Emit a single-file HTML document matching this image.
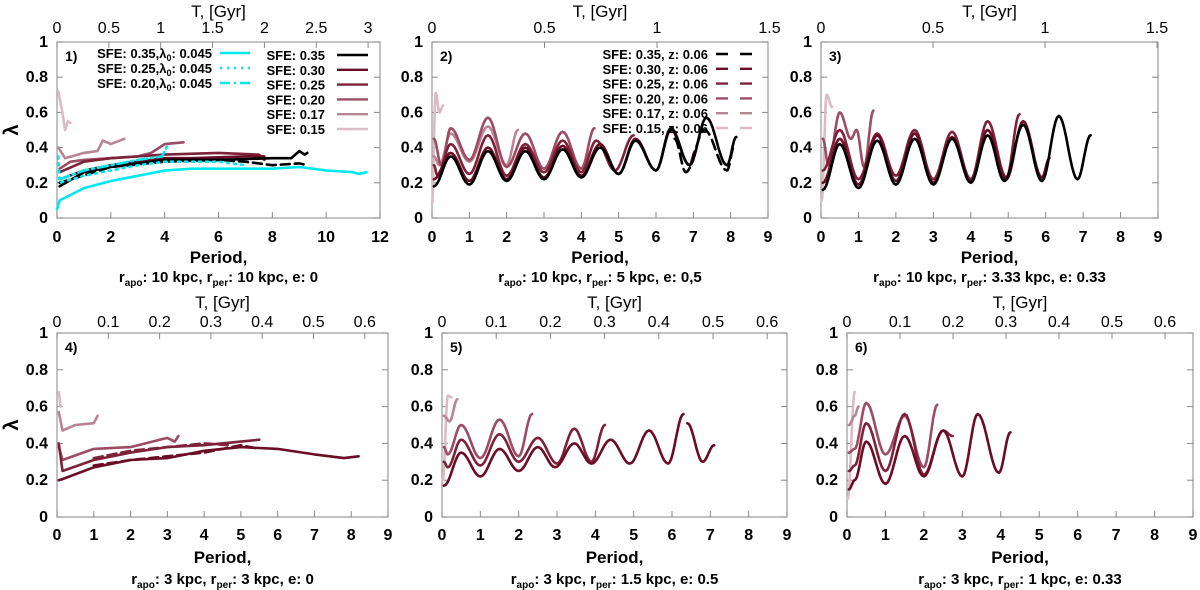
<!DOCTYPE html>
<html><head><meta charset="utf-8"><style>
body{margin:0;background:#fff;}
svg{display:block;font-family:"Liberation Sans",sans-serif;}
</style></head><body>
<svg id="fig" width="1200" height="590" viewBox="0 0 1200 590" xmlns="http://www.w3.org/2000/svg"></svg>
<script>
// ---------------- data ----------------
const colors = {s35:'#000000', s30:'#6a0d25', s25:'#7e2239', s20:'#9c4c63', s17:'#b88593', s15:'#dcbcc4', cyan:'#00e8f0'};
const yTicks = [0,0.2,0.4,0.6,0.8,1];
const xTicks9 = [0,1,2,3,4,5,6,7,8,9];
const xTicks12 = [0,2,4,6,8,10,12];
const topTicks1 = [0,0.5,1,1.5,2,2.5,3];
const topTicks23 = [0,0.5,1,1.5];
const topTicksB = [0,0.1,0.2,0.3,0.4,0.5,0.6];

// panel 1 (linear)
const p1_cyanSolid = [[0,0.05],[0.1,0.1],[1,0.17],[2,0.21],[3,0.24],[4,0.27],[5,0.28],[6,0.28],[8,0.28],[9,0.29],[10,0.27],[11,0.26],[11.2,0.25],[11.5,0.26]];
const p1_cyanDot = [[0.05,0.35],[0.1,0.2],[1,0.24],[2,0.27],[3,0.3],[4,0.32],[5,0.32],[6,0.32],[7,0.3]];
const p1_cyanDashDot = [[0.1,0.22],[1,0.27],[2,0.3],[3,0.33],[3.9,0.35],[4.1,0.41]];
const p1_s35 = [[0.1,0.18],[1,0.26],[2,0.29],[3,0.31],[4,0.33],[6,0.33],[8,0.34],[8.7,0.34],[9,0.38],[9.2,0.36],[9.3,0.37]];
const p1_s35d = [[0.1,0.2],[2,0.29],[4,0.32],[6,0.33],[7,0.32],[8,0.3],[9,0.31],[9.3,0.3]];
const p1_s30 = [[0.1,0.22],[1,0.27],[2,0.3],[3,0.32],[4,0.34],[5,0.34],[7,0.35],[7.7,0.35]];
const p1_s25 = [[0.1,0.26],[1,0.32],[2,0.34],[4,0.36],[6,0.37],[7.5,0.36],[7.7,0.33]];
const p1_s20 = [[0.1,0.28],[0.5,0.32],[1,0.33],[2,0.34],[3,0.35],[3.5,0.37],[4,0.42],[4.7,0.43]];
const p1_s17 = [[0.05,0.4],[0.3,0.34],[1,0.37],[1.5,0.38],[1.7,0.44],[2,0.42],[2.5,0.45]];
const p1_s15 = [[0.05,0.72],[0.2,0.6],[0.3,0.5],[0.4,0.55],[0.5,0.54]];

// panel 2 (oscillating extrema)
const p2_s35 = [[0.05,0.18],[0.5,0.35],[1,0.19],[1.5,0.38],[2,0.21],[2.5,0.38],[3,0.22],[3.5,0.39],[4,0.23],[4.5,0.4],[5,0.25],[5.45,0.44],[6,0.27],[6.4,0.51],[6.9,0.3],[7.35,0.57],[7.9,0.3],[8.15,0.46]];
const p2_s35d = [[6.5,0.45],[6.8,0.26],[7.3,0.5],[7.9,0.27],[8.1,0.41]];
const p2_s30 = [[0.05,0.22],[0.5,0.37],[1,0.21],[1.5,0.4],[2,0.22],[2.5,0.4],[3,0.23],[3.5,0.41],[4,0.24],[4.5,0.42],[5,0.25],[5.45,0.45],[6,0.27],[6.4,0.5],[6.9,0.3],[7.05,0.38]];
const p2_s25 = [[0.05,0.3],[0.15,0.24],[0.5,0.42],[1,0.25],[1.5,0.47],[2,0.24],[2.5,0.42],[3,0.26],[3.5,0.44],[4,0.26],[4.4,0.44],[4.9,0.27],[5.4,0.47]];
const p2_s20 = [[0.05,0.45],[0.25,0.3],[0.5,0.51],[1,0.33],[1.5,0.57],[2,0.29],[2.5,0.48],[3,0.28],[3.5,0.49],[4,0.28],[4.35,0.51]];
const p2_s17 = [[0.05,0.35],[0.2,0.3],[0.5,0.48],[1,0.32],[1.5,0.52],[2,0.3],[2.3,0.5]];
const p2_s15 = [[0,0.08],[0.1,0.71],[0.2,0.6],[0.3,0.64]];

// panel 3
const p3_s35 = [[0.05,0.16],[0.5,0.42],[1,0.17],[1.5,0.44],[2,0.19],[2.5,0.45],[3,0.19],[3.5,0.45],[4,0.2],[4.45,0.47],[4.9,0.21],[5.4,0.53],[5.9,0.21],[6.35,0.58],[6.85,0.22],[7.2,0.47]];
const p3_s30 = [[0.05,0.2],[0.5,0.45],[1,0.19],[1.5,0.47],[2,0.21],[2.5,0.48],[3,0.2],[3.5,0.46],[4,0.21],[4.45,0.5],[4.95,0.22],[5.4,0.55],[5.9,0.23],[6.1,0.34]];
const p3_s25 = [[0.05,0.27],[0.5,0.5],[1,0.22],[1.5,0.48],[2,0.24],[2.5,0.5],[3,0.22],[3.5,0.49],[4,0.22],[4.45,0.55],[4.95,0.23],[5.3,0.59]];
const p3_s20 = [[0.05,0.45],[0.2,0.3],[0.5,0.6],[0.8,0.45],[0.95,0.5],[1.15,0.29],[1.4,0.61]];
const p3_s15 = [[0.02,0.1],[0.15,0.7],[0.3,0.63]];

// panel 4 (linear)
const p4_s30 = [[0.05,0.2],[0.2,0.21],[1,0.27],[2,0.31],[3,0.32],[4,0.36],[5,0.38],[6,0.37],[7,0.34],[7.8,0.32],[8.2,0.33]];
const p4_s30d = [[1,0.28],[2,0.31],[3,0.33],[4,0.35],[5,0.39],[5.5,0.37]];
const p4_s25 = [[0.05,0.4],[0.15,0.25],[1,0.31],[2,0.35],[3,0.38],[4,0.39],[5,0.41],[5.5,0.42]];
const p4_s25d = [[1,0.32],[2,0.36],[3,0.38],[4,0.4],[4.7,0.39]];
const p4_s20 = [[0.05,0.38],[0.15,0.31],[1,0.37],[2,0.38],[3,0.43],[3.2,0.41],[3.3,0.44]];
const p4_s17 = [[0.05,0.57],[0.15,0.47],[0.5,0.5],[1,0.51],[1.1,0.55]];
const p4_s15 = [[0.05,0.68],[0.1,0.6]];

// panel 5
const p5_s30 = [[0.05,0.17],[0.5,0.35],[1,0.22],[1.5,0.37],[2,0.25],[2.5,0.38],[2.95,0.27],[3.45,0.4],[3.9,0.29],[4.4,0.42],[4.9,0.29],[5.4,0.47],[5.9,0.29],[6.3,0.56]];
const p5_s30b = [[6.4,0.51],[6.8,0.3],[7.1,0.39]];
const p5_s25 = [[0.05,0.3],[0.15,0.27],[0.5,0.42],[1,0.28],[1.5,0.45],[2,0.3],[2.5,0.43],[3,0.29],[3.45,0.48],[3.9,0.3],[4.25,0.5]];
const p5_s20 = [[0.05,0.38],[0.15,0.34],[0.5,0.5],[1,0.32],[1.5,0.53],[2,0.33],[2.35,0.56]];
const p5_s17 = [[0.05,0.55],[0.2,0.52],[0.4,0.64]];
const p5_s15 = [[0.02,0.2],[0.15,0.66],[0.25,0.65]];

// panel 6
const p6_s30 = [[0.05,0.15],[0.2,0.2],[0.5,0.41],[1,0.18],[1.5,0.44],[2,0.22],[2.5,0.47],[3,0.22],[3.4,0.56],[3.95,0.24],[4.25,0.46]];
const p6_s25 = [[0.05,0.25],[0.2,0.28],[0.5,0.51],[1,0.25],[1.5,0.56],[2,0.23],[2.5,0.47],[2.75,0.44]];
const p6_s20 = [[0.05,0.35],[0.2,0.37],[0.5,0.62],[1,0.34],[1.5,0.55],[2,0.27],[2.35,0.61]];
const p6_s17 = [[0.05,0.5],[0.2,0.55],[0.3,0.6]];
const p6_s15 = [[0.02,0.1],[0.2,0.68]];

// ---------------- drawing ----------------
const NS='http://www.w3.org/2000/svg';
const svg=document.getElementById('fig');
function el(tag,attrs,parent){const e=document.createElementNS(NS,tag);for(const k in attrs)e.setAttribute(k,attrs[k]);(parent||svg).appendChild(e);return e;}
function txt(s,x,y,size,anchor,weight,parent){const t=el('text',{x:x,y:y,'font-size':size,'text-anchor':anchor||'middle','font-weight':weight||'bold',fill:'#000'},parent);t.textContent=s;return t;}

const panels=[
 {n:1,xL:57,xR:380,yT:42,yB:218,xmax:12,xt:xTicks12,tt:topTicks1,tScale:103.7,row:0,sub:['10 kpc','10 kpc','0']},
 {n:2,xL:432,xR:768,yT:42,yB:218,xmax:9,xt:xTicks9,tt:topTicks23,tScale:225,row:0,sub:['10 kpc','5 kpc','0,5']},
 {n:3,xL:821,xR:1158,yT:42,yB:218,xmax:9,xt:xTicks9,tt:topTicks23,tScale:224,row:0,sub:['10 kpc','3.33 kpc','0.33']},
 {n:4,xL:57,xR:388,yT:333,yB:517,xmax:9,xt:xTicks9,tt:topTicksB,tScale:513,row:1,sub:['3 kpc','3 kpc','0']},
 {n:5,xL:442,xR:787,yT:333,yB:517,xmax:9,xt:xTicks9,tt:topTicksB,tScale:542,row:1,sub:['3 kpc','1.5 kpc','0.5']},
 {n:6,xL:847,xR:1193,yT:333,yB:517,xmax:9,xt:xTicks9,tt:topTicksB,tScale:530,row:1,sub:['3 kpc','1 kpc','0.33']}
];

function makeAxes(p){
  p.sx=v=>p.xL+v/p.xmax*(p.xR-p.xL);
  p.sy=v=>p.yB-v*(p.yB-p.yT);
  const g=el('g',{});
  
  
  p.g=g;
  const fr=el('rect',{x:p.xL,y:p.yT,width:p.xR-p.xL,height:p.yB-p.yT,fill:'none',stroke:'#9a9a9a','stroke-width':1.2},g);
  
  
  const tlY=p.row?540:242, tTopY=p.row?327:33, tTitleY=p.row?308:17, perY=p.row?563:263, subY=p.row?584:282;
  yTicks.forEach(v=>{
    const y=p.sy(v);
    el('line',{x1:p.xL,y1:y,x2:p.xL+6,y2:y,stroke:'#888'},g);
    el('line',{x1:p.xR,y1:y,x2:p.xR-6,y2:y,stroke:'#888'},g);
    const t=txt(String(v),p.xL-9,y+5,16,'end','bold',g);
    
    
  });
  p.xt.forEach(v=>{
    const x=p.sx(v);
    el('line',{x1:x,y1:p.yB,x2:x,y2:p.yB-6,stroke:'#888'},g);
    const t=txt(String(v),x,tlY,16,'middle','bold',g);
    
    
  });
  p.tt.forEach(v=>{
    const x=p.xL+v*p.tScale;
    if(x<=p.xR+1) el('line',{x1:x,y1:p.yT,x2:x,y2:p.yT+6,stroke:'#888'},g);
    const t=txt(String(v),x,tTopY,16,'middle','normal',g);
    
    
  });
  const cx=(p.xL+p.xR)/2;
  const tt=txt('T,  [Gyr]',cx,tTitleY,17,'middle','normal',g);
  
  
  const pt=txt('Period,',cx,perY,17,'middle','bold',g);
  
  
  const st=el('text',{x:cx,y:subY,'font-size':15,'text-anchor':'middle','font-weight':'bold',fill:'#000'},g);
  
  
  st.innerHTML='r<tspan font-size="10" dy="4">apo</tspan><tspan dy="-4">: '+p.sub[0]+', r</tspan><tspan font-size="10" dy="4">per</tspan><tspan dy="-4">: '+p.sub[1]+', e: '+p.sub[2]+'</tspan>';
  const nl=txt(p.n+')',p.xL+8,p.yT+19,14,'start','bold',g);
  
  
  if(p.n===1||p.n===4){
    const ly=(p.yT+p.yB)/2;
    const l=el('text',{x:18,y:ly,'font-size':20,'text-anchor':'middle','font-weight':'bold',fill:'#000',transform:'rotate(-90 18 '+ly+')'},g);
    l.textContent='λ';
    
    
  }
}

function pathLinear(p,pts){return pts.map((q,i)=>(i?'L':'M')+p.sx(q[0]).toFixed(1)+' '+p.sy(q[1]).toFixed(1)).join(' ');}
function pathCos(p,pts){
  let d='M'+p.sx(pts[0][0]).toFixed(1)+' '+p.sy(pts[0][1]).toFixed(1);
  for(let i=1;i<pts.length;i++){
    const a=pts[i-1],b=pts[i];
    for(let k=1;k<=10;k++){const t=k/10;const x=a[0]+(b[0]-a[0])*t;const y=a[1]+(b[1]-a[1])*(1-Math.cos(Math.PI*t))/2;
      d+=' L'+p.sx(x).toFixed(1)+' '+p.sy(y).toFixed(1);}
  }
  return d;
}
function series(p,pts,color,name,opts){
  opts=opts||{};
  const d=opts.cos?pathCos(p,pts):pathLinear(p,pts);
  const a={d:d,fill:'none',stroke:color,'stroke-width':opts.w||2.6,'stroke-linejoin':'round','stroke-linecap':'round'};
  if(opts.dash)a['stroke-dasharray']=opts.dash;
  const e=el('path',a,p.g);
  
  
}

panels.forEach(makeAxes);
const [P1,P2,P3,P4,P5,P6]=panels;

series(P1,p1_s15,colors.s15,'line-sfe-0.15');
series(P1,p1_s17,colors.s17,'line-sfe-0.17');
series(P1,p1_s20,colors.s20,'line-sfe-0.20');
series(P1,p1_s25,colors.s25,'line-sfe-0.25');
series(P1,p1_s30,colors.s30,'line-sfe-0.30');
series(P1,p1_s35d,colors.s35,'line-sfe-0.35-dashed',{dash:'9 5'});
series(P1,p1_s35,colors.s35,'line-sfe-0.35');
series(P1,p1_cyanDot,colors.cyan,'line-sfe-0.25-lambda0',{dash:'2 5'});
series(P1,p1_cyanDashDot,colors.cyan,'line-sfe-0.20-lambda0',{dash:'10 4 2 4'});
series(P1,p1_cyanSolid,colors.cyan,'line-sfe-0.35-lambda0');

series(P2,p2_s15,colors.s15,'line-sfe-0.15',{cos:1});
series(P2,p2_s17,colors.s17,'line-sfe-0.17',{cos:1});
series(P2,p2_s20,colors.s20,'line-sfe-0.20',{cos:1});
series(P2,p2_s25,colors.s25,'line-sfe-0.25',{cos:1});
series(P2,p2_s30,colors.s30,'line-sfe-0.30',{cos:1});
series(P2,p2_s35,colors.s35,'line-sfe-0.35',{cos:1});
series(P2,p2_s35d,colors.s35,'line-sfe-0.35-dashed',{cos:1,dash:'10 6'});

series(P3,p3_s15,colors.s15,'line-sfe-0.15',{cos:1});
series(P3,p3_s20,colors.s20,'line-sfe-0.20',{cos:1});
series(P3,p3_s25,colors.s25,'line-sfe-0.25',{cos:1});
series(P3,p3_s30,colors.s30,'line-sfe-0.30',{cos:1});
series(P3,p3_s35,colors.s35,'line-sfe-0.35',{cos:1});

series(P4,p4_s15,colors.s15,'line-sfe-0.15');
series(P4,p4_s17,colors.s17,'line-sfe-0.17');
series(P4,p4_s20,colors.s20,'line-sfe-0.20');
series(P4,p4_s25d,colors.s25,'line-sfe-0.25-dashed',{dash:'9 5'});
series(P4,p4_s25,colors.s25,'line-sfe-0.25');
series(P4,p4_s30d,colors.s30,'line-sfe-0.30-dashed',{dash:'9 5'});
series(P4,p4_s30,colors.s30,'line-sfe-0.30');

series(P5,p5_s15,colors.s15,'line-sfe-0.15',{cos:1});
series(P5,p5_s17,colors.s17,'line-sfe-0.17',{cos:1});
series(P5,p5_s20,colors.s20,'line-sfe-0.20',{cos:1});
series(P5,p5_s25,colors.s25,'line-sfe-0.25',{cos:1});
series(P5,p5_s30,colors.s30,'line-sfe-0.30',{cos:1});
series(P5,p5_s30b,colors.s30,'line-sfe-0.30-end',{cos:1});

series(P6,p6_s15,colors.s15,'line-sfe-0.15',{cos:1});
series(P6,p6_s17,colors.s17,'line-sfe-0.17',{cos:1});
series(P6,p6_s20,colors.s20,'line-sfe-0.20',{cos:1});
series(P6,p6_s25,colors.s25,'line-sfe-0.25',{cos:1});
series(P6,p6_s30,colors.s30,'line-sfe-0.30',{cos:1});

const leg1L=[['SFE: 0.35,','0.045',''],['SFE: 0.25,','0.045','2 5'],['SFE: 0.20,','0.045','10 4 2 4']];
const lg1=el('g',{},P1.g);


leg1L.forEach((r,i)=>{
  const y=58+i*15;
  const t=el('text',{x:212,y:y,'font-size':13,'text-anchor':'end','font-weight':'bold',fill:'#000'},lg1);
  t.innerHTML=r[0]+'λ<tspan font-size="9" dy="3">0</tspan><tspan dy="-3">: '+r[1]+'</tspan>';
  
  
  const a={x1:220,y1:y-5,x2:250,y2:y-5,stroke:colors.cyan,'stroke-width':2.4};
  if(r[2])a['stroke-dasharray']=r[2];
  el('line',a,lg1);
});
const sfeLab=['0.35','0.30','0.25','0.20','0.17','0.15'];
const sfeCol=[colors.s35,colors.s30,colors.s25,colors.s20,colors.s17,colors.s15];
sfeLab.forEach((s,i)=>{
  const y=60+i*14.8;
  const t=txt('SFE: '+s,325,y,13,'end','bold',lg1);
  
  
  el('line',{x1:337,y1:y-5,x2:368,y2:y-5,stroke:sfeCol[i],'stroke-width':2.4},lg1);
});
const lg2=el('g',{},P2.g);


sfeLab.forEach((s,i)=>{
  const y=59+i*14.8;
  const t=txt('SFE: '+s+', z: 0.06',708,y,13,'end','bold',lg2);
  
  
  el('line',{x1:716,y1:y-5,x2:752,y2:y-5,stroke:sfeCol[i],'stroke-width':2.4,'stroke-dasharray':'12 12'},lg2);
});
</script>
</body></html>
